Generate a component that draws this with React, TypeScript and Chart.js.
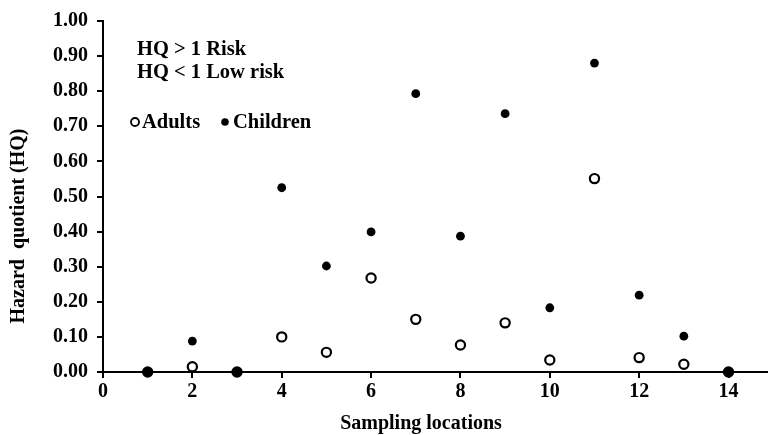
import React, { useEffect, useRef } from "react";
import { Chart, registerables } from "chart.js";

Chart.register(...registerables);

const locations = [1, 2, 3, 4, 5, 6, 7, 8, 9, 10, 11, 12, 13, 14];
const children = [0, 0.088, 0, 0.525, 0.302, 0.399, 0.793, 0.387, 0.736, 0.183, 0.88, 0.219, 0.102, 0];
const adults = [0, 0.015, 0, 0.1, 0.056, 0.268, 0.15, 0.077, 0.14, 0.034, 0.551, 0.041, 0.022, 0];
const xTicks = [0, 2, 4, 6, 8, 10, 12, 14];
const yTicks = [0, 0.1, 0.2, 0.3, 0.4, 0.5, 0.6, 0.7, 0.8, 0.9, 1.0];
const xTitle = "Sampling locations";
const yTitle = "Hazard  quotient (HQ)";
const noteLines = ["HQ > 1 Risk", "HQ < 1 Low risk"];
const seriesNames = ["Adults", "Children"];

const FONT = "'Liberation Serif', 'Times New Roman', serif";

export default function App() {
  const ref = useRef<HTMLCanvasElement | null>(null);

  useEffect(() => {
    if (!ref.current) return;
    const textPlugin = {
      id: "texts",
      afterDraw(chart: any) {
        const ctx = chart.ctx;
        ctx.save();
        ctx.fillStyle = "#000";
        ctx.font = `bold 20.5px ${FONT}`;
        ctx.textBaseline = "middle";
        ctx.textAlign = "left";
        ctx.fillText(noteLines[0], 137, 50);
        ctx.fillText(noteLines[1], 137, 73);
        // legend
        ctx.beginPath();
        ctx.arc(135, 122, 4, 0, Math.PI * 2);
        ctx.fillStyle = "#fff";
        ctx.fill();
        ctx.lineWidth = 1.8;
        ctx.strokeStyle = "#000";
        ctx.stroke();
        ctx.fillStyle = "#000";
        ctx.fillText(seriesNames[0], 142, 123);
        ctx.beginPath();
        ctx.arc(225, 122, 3.8, 0, Math.PI * 2);
        ctx.fill();
        ctx.fillText(seriesNames[1], 233, 123);
        // axis titles
        ctx.font = `bold 20px ${FONT}`;
        ctx.textAlign = "center";
        ctx.fillText(xTitle, 421, 424);
        ctx.translate(18.5, 226);
        ctx.rotate(-Math.PI / 2);
        ctx.fillText(yTitle, 0, 0);
        ctx.restore();
      },
    };

    const chart = new Chart(ref.current, {
      type: "scatter",
      data: {
        datasets: [
          {
            label: seriesNames[1],
            data: locations.map((x, i) => ({ x, y: children[i] })),
            backgroundColor: "#000",
            borderColor: "#000",
            borderWidth: 0,
            pointRadius: 4.4,
            clip: false,
          } as any,
          {
            label: seriesNames[0],
            data: locations.map((x, i) => ({ x, y: adults[i] })),
            backgroundColor: "#fff",
            borderColor: "#000",
            borderWidth: 2.2,
            pointRadius: 4.6,
            clip: false,
          } as any,
        ],
      },
      options: {
        animation: false,
        responsive: false,
        devicePixelRatio: 1,
        layout: { padding: { left: 0, top: 20, right: 5, bottom: 0 } },
        plugins: { legend: { display: false }, tooltip: { enabled: false } },
        scales: {
          x: {
            type: "linear",
            min: 0,
            max: 15,
            afterBuildTicks: (s: any) => {
              s.ticks = xTicks.map((v) => ({ value: v }));
            },
            afterFit: (s: any) => {
              s.height = 63;
            },
            border: { color: "#000", width: 2 },
            grid: { drawOnChartArea: false, drawTicks: true, tickLength: 6, color: "#000", lineWidth: 2 },
            ticks: {
              color: "#000",
              padding: 2,
              maxRotation: 0,
              font: { family: FONT, size: 20, weight: "bold" },
              callback: (v: any) => String(v),
            },
          },
          y: {
            type: "linear",
            min: 0,
            max: 1,
            afterBuildTicks: (s: any) => {
              s.ticks = yTicks.map((v) => ({ value: v }));
            },
            afterFit: (s: any) => {
              s.width = 103;
            },
            border: { color: "#000", width: 2 },
            grid: { drawOnChartArea: false, drawTicks: true, tickLength: 6, color: "#000", lineWidth: 2 },
            ticks: {
              color: "#000",
              padding: 9,
              font: { family: FONT, size: 20, weight: "bold" },
              callback: (v: any) => Number(v).toFixed(2),
            },
          },
        },
      },
      plugins: [textPlugin],
    } as any);
    return () => chart.destroy();
  }, []);

  return (
    <div
      style={{
        position: "fixed",
        left: 0,
        top: 0,
        width: 768,
        height: 435,
        overflow: "hidden",
        background: "#fff",
      }}
    >
      <canvas ref={ref} width={780} height={435} style={{ width: 780, height: 435, display: "block" }} />
    </div>
  );
}
